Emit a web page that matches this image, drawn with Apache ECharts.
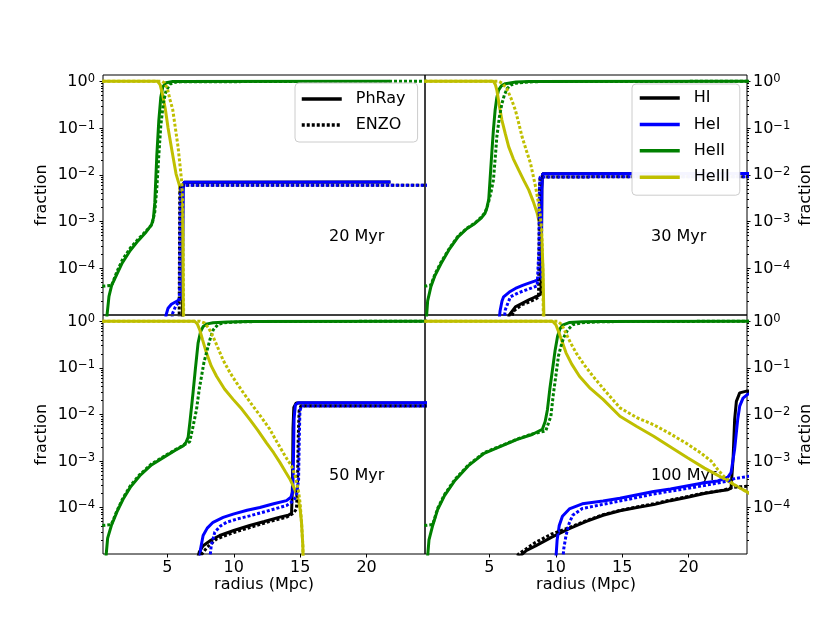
<!DOCTYPE html>
<html>
<head>
<meta charset="utf-8">
<script src="https://cdn.jsdelivr.net/npm/echarts@6/dist/echarts.min.js"></script>
<style>
  html, body { margin: 0; background: #fff; }
  #chart { width: 830px; height: 623px; }
</style>
</head>
<body>
<div id="chart"></div>
<script>
// points are [radius (Mpc), fraction]; PhRay = solid, ENZO = dotted
const panelLabels = ['20 Myr', '30 Myr', '50 Myr', '100 Myr'];
const species = ['HI', 'HeI', 'HeII', 'HeIII'];
const speciesColors = ['#000000', '#0000ff', '#008000', '#bfbf00'];
const xTicks = [5, 10, 15, 20];
const yTicks = [1, 1e-1, 1e-2, 1e-3, 1e-4];

// ---- 20 Myr ----
const phray20HI = [[6.12,3e-6],[6.17,5e-3],[6.25,6.9e-3],[21.8,7.0e-3]];
const enzo20HI = [[5.88,3e-6],[5.93,4e-3],[6.0,6.0e-3],[24.6,6.0e-3]];
const phray20HeI = [[4.8,5e-6],[4.9,1e-5],[5.05,1.4e-5],[5.3,1.7e-5],[5.6,1.9e-5],[5.9,2.1e-5],[6.08,2.4e-5],[6.13,6e-5],[6.16,1e-3],[6.19,5e-3],[6.25,6.9e-3],[21.8,7.0e-3]];
const enzo20HeI = [[5.25,5e-6],[5.4,1.1e-5],[5.6,1.5e-5],[5.85,1.9e-5],[5.92,3e-5],[5.95,1e-3],[5.98,4.5e-3],[6.05,6e-3],[24.6,6e-3]];
const phray20HeII = [[0.42,8e-6],[0.6,2.5e-5],[0.8,4.3e-5],[1.2,7.5e-5],[1.6,1.3e-4],[2.2,2.4e-4],[2.8,3.9e-4],[3.4,6.0e-4],[3.8,8.5e-4],[3.95,1.2e-3],[4.05,2.5e-3],[4.2,2.5e-2],[4.35,0.14],[4.5,0.45],[4.65,0.76],[4.9,0.93],[5.4,0.99],[21.8,1.0]];
const enzo20HeII = [[0.1,4.1e-5],[0.8,4.3e-5],[1.2,8.5e-5],[1.6,1.5e-4],[2.2,2.7e-4],[2.8,4.2e-4],[3.4,6.3e-4],[3.85,8.8e-4],[4.05,1.6e-3],[4.2,5e-3],[4.35,2.5e-2],[4.5,0.11],[4.7,0.35],[4.9,0.63],[5.2,0.87],[5.6,0.955],[6.0,0.98],[24.6,1.0]];
const phray20HeIII = [[0.1,1],[4.25,1],[4.45,0.85],[4.65,0.5],[4.85,0.25],[5.05,0.1],[5.35,0.032],[5.65,0.0105],[5.9,6e-3],[6.1,2e-3],[6.15,6e-4],[6.18,6e-5],[6.21,3e-6]];
const enzo20HeIII = [[0.1,1],[4.6,1],[4.8,0.92],[5.0,0.7],[5.2,0.4],[5.4,0.25],[5.6,0.1],[5.8,0.04],[5.95,0.016],[6.08,7e-3],[6.14,3e-3],[6.18,5e-4],[6.21,3e-5],[6.24,3e-6]];

// ---- 30 Myr ----
const phray30HI = [[6.3,6e-6],[6.5,1e-5],[6.96,1.5e-5],[7.5,1.8e-5],[7.97,2.1e-5],[8.4,2.4e-5],[8.7,2.6e-5],[8.88,2.8e-5],[8.92,3e-4],[8.95,5e-3],[9.0,0.0105],[24.6,0.0107]];
const enzo30HI = [[6.55,6e-6],[6.8,1.2e-5],[7.46,1.66e-5],[8.0,1.9e-5],[8.48,2.2e-5],[8.7,2.4e-5],[8.74,3e-4],[8.77,5e-3],[8.82,9e-3],[24.6,9.1e-3]];
const phray30HeI = [[5.7,6e-6],[5.8,1.2e-5],[5.95,2e-5],[6.07,2.45e-5],[6.5,3.1e-5],[6.96,3.7e-5],[7.5,4.3e-5],[7.97,4.8e-5],[8.4,5.3e-5],[8.7,5.7e-5],[8.88,6.3e-5],[8.92,3e-4],[8.95,5e-3],[9.0,0.0105],[24.6,0.0107]];
const enzo30HeI = [[6.05,6e-6],[6.2,1.3e-5],[6.58,2.45e-5],[7.2,3.0e-5],[7.72,3.4e-5],[8.2,3.8e-5],[8.6,4.2e-5],[8.7,4.5e-5],[8.74,3e-4],[8.77,5e-3],[8.82,9e-3],[24.6,9.1e-3]];
const phray30HeII = [[0.2,5e-6],[0.35,2e-5],[0.6,4.1e-5],[0.9,7e-5],[1.36,1.26e-4],[2.0,2.6e-4],[2.64,4.7e-4],[3.3,7e-4],[3.91,9.1e-4],[4.4,1.2e-3],[4.67,1.5e-3],[4.82,2e-3],[4.95,3e-3],[5.05,8e-3],[5.18,0.029],[5.3,0.09],[5.43,0.24],[5.56,0.45],[5.69,0.65],[5.9,0.8],[6.2,0.89],[7,0.97],[8,0.99],[24.6,1]];
const enzo30HeII = [[0.1,4.1e-5],[0.6,4.4e-5],[0.9,7.5e-5],[1.36,1.35e-4],[2.0,2.7e-4],[2.64,4.9e-4],[3.3,7.2e-4],[3.91,9.3e-4],[4.4,1.25e-3],[4.7,1.6e-3],[4.92,2.5e-3],[5.1,4e-3],[5.3,7.6e-3],[5.45,0.025],[5.56,0.065],[5.75,0.17],[5.94,0.33],[6.12,0.5],[6.32,0.69],[6.6,0.83],[7.0,0.91],[8,0.97],[9,0.99],[24.6,1]];
const phray30HeIII = [[0.1,1],[5.3,1],[5.45,0.85],[5.56,0.65],[5.75,0.3],[5.94,0.148],[6.2,0.075],[6.45,0.04],[6.8,0.022],[7.21,0.0126],[7.6,7.5e-3],[7.97,4.7e-3],[8.3,2.7e-3],[8.6,1.5e-3],[8.8,8.5e-4],[8.94,4.7e-4],[9.04,9e-5],[9.1,1e-5],[9.13,3e-6]];
const enzo30HeIII = [[0.1,1],[5.69,1],[6.0,0.9],[6.32,0.69],[6.65,0.42],[6.96,0.24],[7.2,0.13],[7.46,0.065],[7.8,0.032],[8.1,0.0174],[8.48,5.5e-3],[8.79,1.74e-3],[8.94,6.6e-4],[9.02,1e-4],[9.08,3e-6]];

// ---- 50 Myr ----
const phray50HI = [[7.15,6e-6],[7.4,1.1e-5],[7.69,1.5e-5],[8.3,2e-5],[8.94,2.5e-5],[10.0,3.2e-5],[11.2,4.1e-5],[12.3,5e-5],[13.47,6.2e-5],[14.1,6.8e-5],[14.35,7.5e-5],[14.42,3e-4],[14.46,5e-3],[14.52,0.014],[14.7,0.0175],[24.6,0.0176]];
const enzo50HI = [[7.3,6e-6],[7.6,1e-5],[8.0,1.4e-5],[8.7,2.1e-5],[10.0,2.9e-5],[11.2,3.7e-5],[12.6,4.9e-5],[13.97,6.2e-5],[14.5,7.5e-5],[14.72,9.3e-5],[14.8,3e-4],[14.85,3e-3],[14.92,0.012],[15.05,0.0151],[24.6,0.0151]];
const phray50HeI = [[7.42,6e-6],[7.5,1.3e-5],[7.69,2.5e-5],[8.0,3.6e-5],[8.44,4.8e-5],[9.2,6.1e-5],[9.95,7.2e-5],[11.0,8.7e-5],[11.96,1e-4],[13.0,1.2e-4],[13.97,1.4e-4],[14.3,1.66e-4],[14.44,2.2e-4],[14.49,1e-3],[14.54,8e-3],[14.64,0.016],[14.85,0.0178],[24.6,0.0178]];
const enzo50HeI = [[8.15,6e-6],[8.3,1.5e-5],[8.57,2.95e-5],[9.0,4e-5],[9.45,4.8e-5],[10.3,5.7e-5],[11.2,6.6e-5],[12.6,8.5e-5],[13.97,1.1e-4],[14.5,1.4e-4],[14.72,1.8e-4],[14.88,4e-4],[14.93,3e-3],[14.98,0.012],[15.1,0.0151],[24.6,0.0151]];
const phray50HeII = [[0.3,5e-6],[0.5,2.2e-5],[0.78,4.1e-5],[1.2,8e-5],[1.66,1.5e-4],[2.2,2.7e-4],[2.92,4.8e-4],[3.8,8.2e-4],[4.93,1.3e-3],[5.6,1.7e-3],[6.18,2.1e-3],[6.4,2.5e-3],[6.56,3.2e-3],[6.7,7e-3],[6.93,0.029],[7.1,0.09],[7.31,0.34],[7.5,0.6],[7.69,0.77],[8.0,0.88],[8.44,0.93],[9.5,0.97],[11,0.99],[24.6,1]];
const enzo50HeII = [[0.1,4.1e-5],[0.78,4.3e-5],[1.2,8.5e-5],[1.66,1.6e-4],[2.2,2.9e-4],[2.92,5.1e-4],[3.8,8.6e-4],[4.93,1.35e-3],[5.6,1.75e-3],[6.18,2.15e-3],[6.68,2.6e-3],[6.9,5e-3],[7.19,0.0126],[7.4,0.035],[7.57,0.066],[7.75,0.13],[7.94,0.21],[8.2,0.4],[8.44,0.65],[8.8,0.85],[9.3,0.93],[10.5,0.97],[12,0.99],[24.6,1]];
const phray50HeIII = [[0.1,1],[7.05,1],[7.25,0.88],[7.44,0.65],[7.65,0.4],[7.94,0.21],[8.3,0.11],[8.7,0.066],[9.3,0.035],[9.95,0.021],[10.6,0.013],[11.2,7.8e-3],[11.8,4.6e-3],[12.46,2.45e-3],[13.0,1.5e-3],[13.47,9.3e-4],[13.9,5.8e-4],[14.22,4.1e-4],[14.55,2.6e-4],[14.85,1.5e-4],[15.0,9e-5],[15.1,4.8e-5],[15.2,1.5e-5],[15.25,3e-6]];
const enzo50HeIII = [[0.1,1],[7.44,1],[7.8,0.92],[8.1,0.72],[8.44,0.47],[8.8,0.27],[9.19,0.148],[9.7,0.08],[10.2,0.048],[10.8,0.027],[11.45,0.015],[12.1,8.5e-3],[12.71,4.8e-3],[13.2,2.7e-3],[13.72,1.5e-3],[14.05,1.05e-3],[14.35,7.8e-4],[14.6,5e-4],[14.85,2.5e-4],[15.0,1.2e-4],[15.1,4.8e-5],[15.2,1.5e-5],[15.25,3e-6]];

// ---- 100 Myr ----
const phray100HI = [[6.95,6e-6],[7.3,9e-6],[7.8,1.2e-5],[8.48,1.5e-5],[9.7,2.3e-5],[11.02,3.5e-5],[12.3,5e-5],[13.56,6.8e-5],[14.83,8.5e-5],[16.1,1e-4],[17.37,1.15e-4],[18.64,1.4e-4],[19.92,1.66e-4],[21.18,2e-4],[22.3,2.25e-4],[22.96,2.4e-4],[23.2,2.6e-4],[23.35,1.1e-3],[23.47,7.8e-3],[23.6,0.019],[23.85,0.029],[24.36,0.0316],[24.6,0.032]];
const enzo100HI = [[6.7,6e-6],[7.2,1e-5],[8.48,1.78e-5],[9.7,2.7e-5],[11.02,3.7e-5],[12.3,5.2e-5],[13.56,7e-5],[14.83,8.7e-5],[16.1,1.03e-4],[17.37,1.2e-4],[18.64,1.45e-4],[19.92,1.72e-4],[21.18,2.05e-4],[22.45,2.3e-4],[23.35,2.7e-4],[24.0,2.8e-4],[24.6,2.9e-4]];
const phray100HeI = [[9.98,6e-6],[10.1,2e-5],[10.26,4.1e-5],[10.5,6.5e-5],[11.02,9.3e-5],[12.0,1.2e-4],[13.56,1.38e-4],[14.83,1.58e-4],[17.37,2.2e-4],[18.64,2.5e-4],[21.18,3.4e-4],[22.2,3.7e-4],[22.96,4.5e-4],[23.2,5.6e-4],[23.47,1.8e-3],[23.7,7.8e-3],[23.85,0.015],[24.1,0.0224],[24.44,0.0269],[24.6,0.0275]];
const enzo100HeI = [[10.5,6e-6],[10.6,1.3e-5],[10.77,2.5e-5],[11.0,4.5e-5],[11.27,6.8e-5],[12.0,9.5e-5],[13.56,1.17e-4],[15.5,1.5e-4],[17.37,1.95e-4],[19.3,2.4e-4],[21.18,2.95e-4],[22.96,3.7e-4],[23.5,4.2e-4],[24.6,4.7e-4]];
const phray100HeII = [[0.3,6e-6],[0.45,2e-5],[0.73,4.1e-5],[1.1,9e-5],[1.62,1.8e-4],[2.4,3.8e-4],[3.4,7.8e-4],[4.6,1.45e-3],[5.94,2.1e-3],[7.1,2.9e-3],[8.22,3.7e-3],[8.99,4.8e-3],[9.2,7e-3],[9.37,0.0126],[9.55,0.035],[9.75,0.091],[9.95,0.24],[10.13,0.47],[10.3,0.68],[10.51,0.83],[11,0.94],[12,0.98],[13.5,0.995],[24.6,1]];
const enzo100HeII = [[0.1,4.1e-5],[0.73,4.3e-5],[1.1,9.5e-5],[1.62,1.9e-4],[2.4,4e-4],[3.4,8.1e-4],[4.6,1.5e-3],[5.94,2.15e-3],[7.1,2.95e-3],[8.22,3.8e-3],[9.24,4.4e-3],[9.45,6.5e-3],[9.63,9.1e-3],[9.8,0.025],[10.0,0.066],[10.2,0.18],[10.39,0.29],[10.6,0.45],[10.89,0.65],[11.3,0.85],[12,0.93],[13,0.97],[15,0.99],[24.6,1]];
const phray100HeIII = [[0.1,1],[9.75,1],[10.0,0.85],[10.26,0.55],[10.5,0.35],[10.77,0.21],[11.2,0.12],[11.78,0.066],[12.6,0.036],[13.56,0.021],[14.83,9.1e-3],[16.1,5.5e-3],[17.37,3.4e-3],[18.64,2.0e-3],[19.92,1.17e-3],[21.2,7.0e-4],[22.45,4.5e-4],[23.5,3e-4],[24.6,2e-4]];
const enzo100HeIII = [[0.1,1],[10.13,1],[10.45,0.85],[10.77,0.55],[11.1,0.35],[11.53,0.21],[12.1,0.12],[12.8,0.066],[13.8,0.03],[14.83,0.0138],[16.1,8.5e-3],[17.37,6e-3],[18.64,3.8e-3],[19.92,2.3e-3],[20.9,1.5e-3],[21.69,1e-3],[22.2,6.5e-4],[22.7,4.5e-4],[23.5,3e-4],[24.6,2e-4]];

const phrayData = [
  [phray20HI, phray20HeI, phray20HeII, phray20HeIII],
  [phray30HI, phray30HeI, phray30HeII, phray30HeIII],
  [phray50HI, phray50HeI, phray50HeII, phray50HeIII],
  [phray100HI, phray100HeI, phray100HeII, phray100HeIII]
];
const enzoData = [
  [enzo20HI, enzo20HeI, enzo20HeII, enzo20HeIII],
  [enzo30HI, enzo30HeI, enzo30HeII, enzo30HeIII],
  [enzo50HI, enzo50HeI, enzo50HeII, enzo50HeIII],
  [enzo100HI, enzo100HeI, enzo100HeII, enzo100HeIII]
];

const FONT = "'DejaVu Sans', sans-serif";
// tick label as 10 with a raised exponent
const powLabel = v => {
  const e = Math.round(Math.log10(v));
  return '{a|10}{b|' + (e < 0 ? '\u2212' + (-e) : String(e)) + '}';
};
const powRich = {
  a: { fontSize: 16, fontFamily: FONT, color: '#000', verticalAlign: 'bottom' },
  b: { fontSize: 11.5, fontFamily: FONT, color: '#000', verticalAlign: 'bottom', padding: [0, 0, 5, 0] }
};

// log minor ticks 2..9 per decade
const minorTicks = [];
for (let e = -5; e <= 0; e++) {
  for (let k = 2; k <= 9; k++) minorTicks.push(k * Math.pow(10, e));
}

const yMin = 1e-5, yMax = 1.365, xMin = 0.15, xMax = 24.4;
const panelBoxes = [
  { left: 103, top: 75, height: 240 },
  { left: 425, top: 75, height: 240 },
  { left: 103, top: 315, height: 239 },
  { left: 425, top: 315, height: 239 }
];

const grids = panelBoxes.map(b => ({
  left: b.left, top: b.top, width: 322, height: b.height,
  show: true, borderColor: '#000', borderWidth: 1, backgroundColor: 'transparent'
}));

const xAxes = panelBoxes.map((b, i) => {
  const bottom = i >= 2;
  return {
    type: 'value', gridIndex: i, min: xMin, max: xMax,
    axisLine: { show: false }, splitLine: { show: false },
    axisTick: { show: bottom, customValues: xTicks, length: 3.5, lineStyle: { color: '#000' } },
    axisLabel: { show: bottom, customValues: xTicks, color: '#000', fontSize: 16, fontFamily: FONT, margin: 6 },
    name: bottom ? 'radius (Mpc)' : '', nameLocation: 'middle', nameGap: 21,
    nameTextStyle: { color: '#000', fontSize: 16, fontFamily: FONT }
  };
});

const yAxes = [];
panelBoxes.forEach((b, i) => {
  const right = i % 2 === 1;
  yAxes.push({
    type: 'log', logBase: 10, gridIndex: i, min: yMin, max: yMax,
    position: right ? 'right' : 'left',
    axisLine: { show: false }, splitLine: { show: false }, minorTick: { show: false },
    axisTick: { customValues: yTicks, length: 3.5, lineStyle: { color: '#000' } },
    axisLabel: { customValues: yTicks, formatter: powLabel, rich: powRich, margin: right ? 6 : 8 },
    name: 'fraction', nameLocation: 'middle', nameGap: right ? 51 : 53, nameRotate: 90,
    nameTextStyle: { color: '#000', fontSize: 16, fontFamily: FONT }
  });
  yAxes.push({
    type: 'log', logBase: 10, gridIndex: i, min: yMin, max: yMax,
    position: right ? 'right' : 'left',
    axisLine: { show: false }, splitLine: { show: false },
    axisTick: { customValues: minorTicks, length: 2, lineStyle: { color: '#000' } },
    axisLabel: { show: false }
  });
});

function line(name, data, color, dotted, gi) {
  return {
    type: 'line', name: name, data: data, xAxisIndex: gi, yAxisIndex: gi * 2,
    color: color, symbol: 'none', showSymbol: false, silent: true,
    lineStyle: { width: 3, color: color, type: dotted ? [3, 2] : 'solid', cap: 'butt' }
  };
}

const series = [];
// legend-only entries for the code styles
series.push(line('PhRay', [], '#000', false, 0));
series.push(line('ENZO', [], '#000', true, 0));
for (let p = 0; p < 4; p++) {
  species.forEach((s, k) => series.push(line(s, phrayData[p][k], speciesColors[k], false, p)));
  species.forEach((s, k) => series.push(line(s + ' (ENZO)', enzoData[p][k], speciesColors[k], true, p)));
}

const labelPos = [[329, 237], [651, 237], [329, 476], [651, 476]];
const graphics = panelLabels.map((t, i) => ({
  type: 'text', x: labelPos[i][0], y: labelPos[i][1], z: 0,
  style: { text: t, fill: '#000', font: '16px ' + FONT, align: 'left', verticalAlign: 'middle' }
}));

const legendBase = {
  orient: 'vertical', itemWidth: 40, itemHeight: 14, selectedMode: false,
  zlevel: 1, z: 20,
  itemStyle: { opacity: 0 }, lineStyle: { width: 3.5 },
  backgroundColor: 'rgba(255,255,255,0.96)', borderColor: '#cccccc', borderWidth: 1, borderRadius: 4,
  textStyle: { color: '#000', fontSize: 16, fontFamily: FONT, padding: [0, 0, 0, 9] }
};

const chart = echarts.init(document.getElementById('chart'), null, { renderer: 'canvas' });
chart.setOption({
  animation: false,
  backgroundColor: '#fff',
  grid: grids,
  xAxis: xAxes,
  yAxis: yAxes,
  legend: [
    Object.assign({}, legendBase, { data: ['PhRay', 'ENZO'], left: 295, top: 83, itemGap: 10, padding: [8, 12, 9, 5] }),
    Object.assign({}, legendBase, { data: species, left: 632, top: 84, itemGap: 10.4, padding: [6, 10, 10, 6] })
  ],
  graphic: graphics,
  series: series
});
</script>
</body>
</html>
